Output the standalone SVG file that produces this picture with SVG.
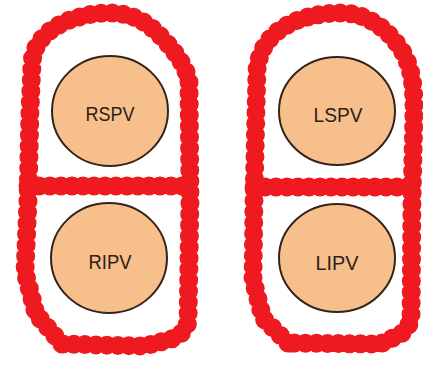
<svg xmlns="http://www.w3.org/2000/svg" width="423" height="368" viewBox="0 0 423 368">
  <style>
    .lesion-base { fill: none; stroke: #EE1A1F; stroke-width: 14; stroke-linejoin: round; stroke-linecap: round; }
    .lesion-dots { fill: none; stroke: #EE1A1F; stroke-width: 19; stroke-linecap: round; stroke-dasharray: 0 11; }
    .vein { fill: #F6BF8C; stroke: #33241a; stroke-width: 2; }
    .label { font-family: "Liberation Sans", Arial, sans-serif; font-size: 20px; fill: #2e2016; text-anchor: middle; }
  </style>
  <defs>
    <!-- ablation line paths, reused for the solid core and the dotted rim -->
    <path id="ring-right" d="M 62,344 L 36,314 L 25,272 L 28,200 L 30,110 L 32,64 C 33,32 70,13 110,13 C 135,13 150,24 166,42 Q 186,64 189,82 L 190,200 L 188,322 Q 184,336 168,340 L 145,346 L 100,345 Z"/>
    <path id="bar-right" d="M 28,186 L 190,186"/>
    <path id="ring-left" d="M 288,343 L 263,318 L 253,280 L 254,200 L 256,110 L 257,70 C 260,35 292,13 342,13 C 367,13 390,30 404,54 C 413,72 414,90 414,112 L 412,200 L 411,320 Q 406,333 395,337 L 380,344 Z"/>
    <path id="bar-left" d="M 254,187 L 413,187"/>
  </defs>

  <g id="lesions">
    <use href="#ring-right" class="lesion-base"/>
    <use href="#ring-right" class="lesion-dots"/>
    <use href="#bar-right" class="lesion-base"/>
    <use href="#bar-right" class="lesion-dots"/>
    <use href="#ring-left" class="lesion-base"/>
    <use href="#ring-left" class="lesion-dots"/>
    <use href="#bar-left" class="lesion-base"/>
    <use href="#bar-left" class="lesion-dots"/>
  </g>

  <g id="rspv">
    <ellipse class="vein" cx="110" cy="111" rx="58" ry="55"/>
    <text class="label" x="110" y="121" textLength="49" lengthAdjust="spacingAndGlyphs">RSPV</text>
  </g>
  <g id="ripv">
    <ellipse class="vein" cx="109" cy="258" rx="58" ry="55"/>
    <text class="label" x="110" y="269" textLength="43" lengthAdjust="spacingAndGlyphs">RIPV</text>
  </g>
  <g id="lspv">
    <ellipse class="vein" cx="337" cy="111" rx="58" ry="54"/>
    <text class="label" x="338" y="122" textLength="49" lengthAdjust="spacingAndGlyphs">LSPV</text>
  </g>
  <g id="lipv">
    <ellipse class="vein" cx="337" cy="258" rx="58" ry="54"/>
    <text class="label" x="337" y="270" textLength="43" lengthAdjust="spacingAndGlyphs">LIPV</text>
  </g>
</svg>
